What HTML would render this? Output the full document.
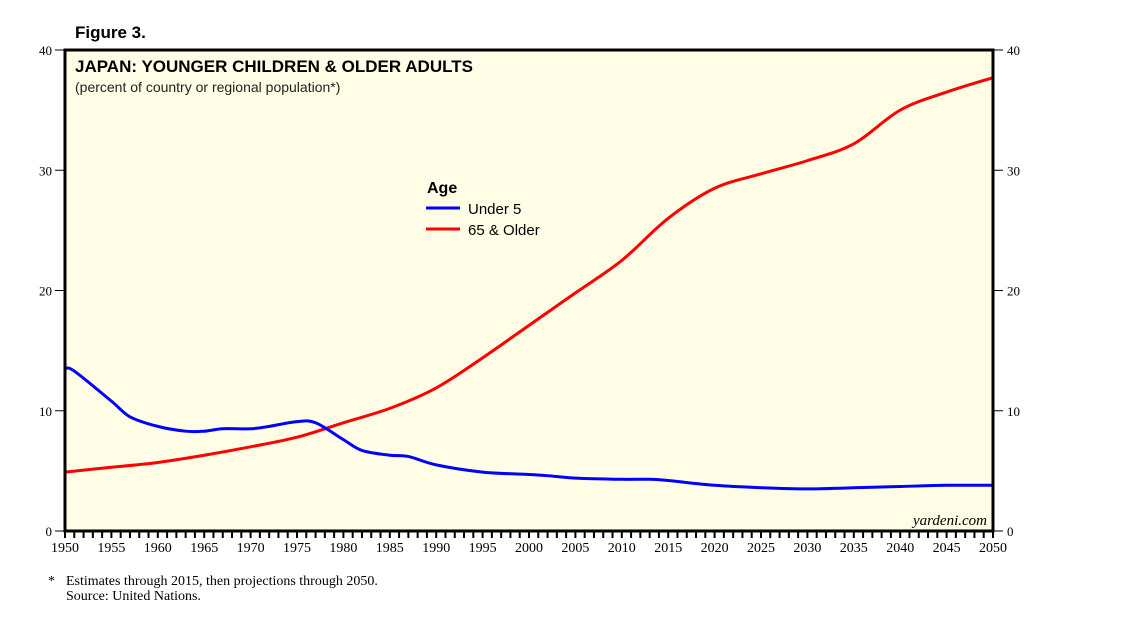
<!DOCTYPE html>
<html><head><meta charset="utf-8"><style>
body{margin:0;background:#fff;width:1138px;height:621px;overflow:hidden}
svg text{font-family:"Liberation Sans",sans-serif}
.serif{font-family:"Liberation Serif",serif}
</style></head><body>
<svg id="chart" width="1138" height="621">
<text x="75" y="38" font-size="17" font-weight="bold">Figure 3.</text>
<rect x="65" y="50" width="928" height="481" fill="#fffde6"/>
<g id="grid"></g>
<g id="series"></g>
<rect x="65" y="50" width="928" height="481" fill="none" stroke="#000" stroke-width="3"/>
<text x="75" y="72" font-size="17" font-weight="bold">JAPAN: YOUNGER CHILDREN &amp; OLDER ADULTS</text>
<text x="75" y="92" font-size="14" fill="#222">(percent of country or regional population*)</text>
<g>
<text x="427" y="193" font-size="16" font-weight="bold">Age</text>
<line x1="426" y1="208" x2="460" y2="208" stroke="#0000ff" stroke-width="3"/>
<text x="468" y="214" font-size="15">Under 5</text>
<line x1="426" y1="229" x2="460" y2="229" stroke="#ff0000" stroke-width="3"/>
<text x="468" y="235" font-size="15">65 &amp; Older</text>
</g>
<text x="987" y="525" font-size="15" font-style="italic" text-anchor="end" class="serif">yardeni.com</text>
<text x="48" y="585" font-size="14" class="serif">*</text>
<text x="66" y="585" font-size="14" class="serif">Estimates through 2015, then projections through 2050.</text>
<text x="66" y="600" font-size="14" class="serif">Source: United Nations.</text>
</svg>
<script>
const years=[1950,1951,1955,1957,1960,1963,1965,1967,1970,1972,1975,1977,1980,1982,1985,1987,1990,1995,2000,2002,2005,2010,2013,2015,2020,2025,2030,2035,2040,2045,2050];
const under5=[13.5,13.3,10.8,9.5,8.7,8.3,8.3,8.5,8.5,8.7,9.1,9.0,7.6,6.7,6.3,6.2,5.5,4.9,4.7,4.6,4.4,4.3,4.3,4.2,3.8,3.6,3.5,3.6,3.7,3.8,3.8];
const years65=[1950,1955,1960,1965,1970,1975,1980,1985,1990,1995,2000,2005,2010,2015,2020,2025,2030,2035,2040,2045,2050];
const older65=[4.9,5.3,5.7,6.3,7.0,7.8,9.0,10.2,11.9,14.4,17.1,19.8,22.5,26.0,28.5,29.7,30.8,32.2,35.0,36.5,37.7];
const yTicks=[0,10,20,30,40];
const xLabels=[1950,1955,1960,1965,1970,1975,1980,1985,1990,1995,2000,2005,2010,2015,2020,2025,2030,2035,2040,2045,2050];
const NS="http://www.w3.org/2000/svg";
const X=y=>65+(y-1950)*(993-65)/100;
const Y=v=>531-v*(481/40);
const g=document.getElementById('grid'),s=document.getElementById('series');
function mk(p,tag,a){const e=document.createElementNS(NS,tag);for(const k in a)e.setAttribute(k,a[k]);p.appendChild(e);return e;}
yTicks.forEach(v=>{
 const l=mk(g,'line',{x1:55,x2:65,y1:Y(v),y2:Y(v),stroke:'#000'});
 
 
 const r=mk(g,'line',{x1:993,x2:1003,y1:Y(v),y2:Y(v),stroke:'#000'});
 
 
 const t=mk(g,'text',{x:52,y:Y(v)+5,'font-size':13,'text-anchor':'end',class:'serif'});t.textContent=v;
 
 
 const t2=mk(g,'text',{x:1007,y:Y(v)+5,'font-size':13,class:'serif'});t2.textContent=v;
 
 
});
for(let yr=1950;yr<=2050;yr++){
 const l=mk(g,'line',{x1:X(yr),x2:X(yr),y1:531,y2:538,stroke:'#000','stroke-width':2});
 
 
}
xLabels.forEach(yr=>{
 const t=mk(g,'text',{x:X(yr),y:552,'font-size':14,'text-anchor':'middle',class:'serif'});t.textContent=yr;
 
 
});
function line(xs,vs,color,name){
 const P=xs.map((x,i)=>[X(x),Y(vs[i])]);
 let d='M'+P[0][0]+','+P[0][1];
 for(let i=0;i<P.length-1;i++){
  const p0=P[Math.max(0,i-1)],p1=P[i],p2=P[i+1],p3=P[Math.min(P.length-1,i+2)];
  const t=1/6;
  d+=' C'+(p1[0]+(p2[0]-p0[0])*t)+','+(p1[1]+(p2[1]-p0[1])*t)+' '+(p2[0]-(p3[0]-p1[0])*t)+','+(p2[1]-(p3[1]-p1[1])*t)+' '+p2[0]+','+p2[1];
 }
 const p=mk(s,'path',{d:d,fill:'none',stroke:color,'stroke-width':3,'stroke-linejoin':'round'});
 
 
}
line(years65,older65,'#ff0000','line-65-older');
line(years,under5,'#0000ff','line-under-5');
</script>
</body></html>
